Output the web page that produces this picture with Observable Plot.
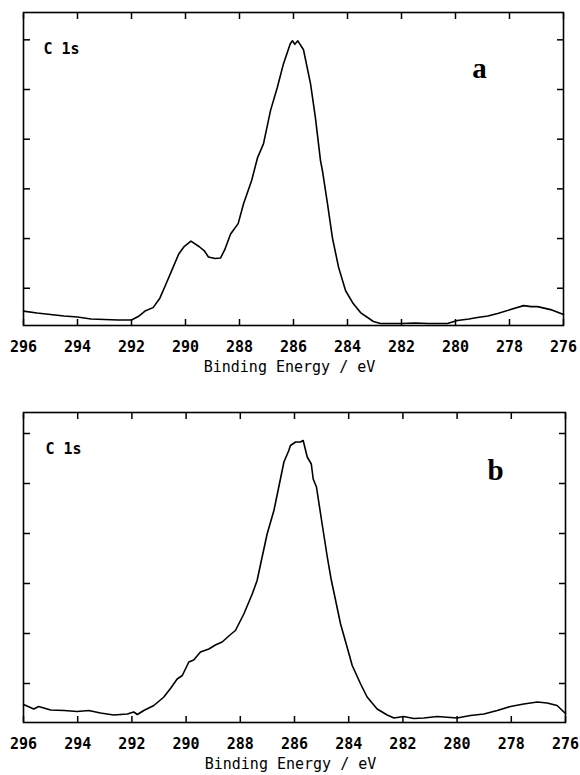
<!DOCTYPE html>
<html>
<head>
<meta charset="utf-8">
<script src="https://cdn.jsdelivr.net/npm/d3@7"></script>
<script src="https://cdn.jsdelivr.net/npm/@observablehq/plot@0.6"></script>
<style>
  html, body { margin: 0; padding: 0; background: #fff; }
  #chart { width: 580px; }
  svg { display: block; }
</style>
</head>
<body>
<div id="chart"></div>
<script>
// ---- data ----
const xTicks = [296, 294, 292, 290, 288, 286, 284, 282, 280, 278, 276];
const xLabel = "Binding Energy / eV";
const peakLabel = "C 1s";
const panelNames = ["a", "b"];

const energyA = [296.0, 295.5, 295.0, 294.5, 294.0, 293.5, 293.0, 292.5, 292.0, 291.75, 291.5, 291.2, 290.95, 290.75, 290.5, 290.25, 290.05, 289.8, 289.5, 289.3, 289.15, 288.9, 288.7, 288.55, 288.33, 288.05, 287.85, 287.55, 287.33, 287.11, 286.85, 286.6, 286.37, 286.12, 286.04, 285.95, 285.84, 285.63, 285.37, 285.19, 285.0, 284.93, 284.74, 284.56, 284.33, 284.07, 283.81, 283.52, 283.04, 282.78, 282.0, 281.5, 281.0, 280.3, 279.93, 279.5, 279.19, 278.8, 278.44, 277.96, 277.48, 277.2, 276.96, 276.48, 276.0];
const intensityA = [0.29, 0.25, 0.22, 0.19, 0.17, 0.13, 0.12, 0.11, 0.11, 0.18, 0.29, 0.36, 0.55, 0.80, 1.12, 1.44, 1.59, 1.70, 1.59, 1.50, 1.38, 1.35, 1.36, 1.52, 1.84, 2.05, 2.45, 2.92, 3.38, 3.66, 4.33, 4.79, 5.27, 5.67, 5.73, 5.66, 5.73, 5.55, 4.87, 4.19, 3.32, 3.12, 2.45, 1.77, 1.17, 0.70, 0.46, 0.26, 0.08, 0.04, 0.04, 0.05, 0.04, 0.04, 0.10, 0.13, 0.16, 0.19, 0.24, 0.32, 0.40, 0.38, 0.38, 0.32, 0.22];

const energyB = [296.0, 295.62, 295.44, 295.0, 294.5, 294.02, 293.59, 293.16, 292.67, 292.17, 291.93, 291.8, 291.56, 291.19, 290.82, 290.55, 290.33, 290.14, 289.9, 289.72, 289.47, 289.16, 288.92, 288.67, 288.36, 288.18, 287.87, 287.56, 287.38, 287.25, 287.01, 286.76, 286.58, 286.39, 286.21, 286.15, 285.96, 285.78, 285.68, 285.53, 285.38, 285.31, 285.19, 284.98, 284.79, 284.65, 284.3, 284.06, 283.87, 283.56, 283.32, 282.95, 282.58, 282.33, 281.97, 281.6, 281.23, 280.73, 280.0, 279.51, 279.01, 278.52, 278.03, 277.54, 277.04, 276.68, 276.31, 276.0];
const intensityB = [0.36, 0.27, 0.32, 0.25, 0.24, 0.22, 0.24, 0.19, 0.15, 0.17, 0.21, 0.16, 0.24, 0.34, 0.51, 0.70, 0.87, 0.94, 1.21, 1.25, 1.41, 1.47, 1.55, 1.61, 1.76, 1.84, 2.17, 2.57, 2.84, 3.17, 3.77, 4.24, 4.71, 5.21, 5.44, 5.54, 5.61, 5.61, 5.64, 5.31, 5.17, 4.87, 4.71, 3.97, 3.31, 2.87, 1.97, 1.51, 1.14, 0.77, 0.51, 0.27, 0.15, 0.09, 0.12, 0.08, 0.09, 0.12, 0.09, 0.14, 0.17, 0.24, 0.32, 0.37, 0.41, 0.39, 0.34, 0.18];

const yTicksA = [0.75, 1.75, 2.75, 3.75, 4.75, 5.75];
const yTicksB = [0.78, 1.78, 2.78, 3.78, 4.78, 5.78];

const MONO = "'DejaVu Sans Mono', monospace";
const SERIF = "'Liberation Serif', 'DejaVu Serif', serif";
const noText = () => "";

function stretch(svg, label, sx, sy) {
  svg.querySelectorAll(`g[aria-label="${label}"] text`).forEach(t => {
    const tr = t.getAttribute("transform") || "";
    t.setAttribute("transform", tr + ` scale(${sx},${sy})`);
  });
}

function panel({energy, intensity, yTicks, yMax, name, height, marginTop, marginBottom, marginRight, cDx, nameDx, nameDy}) {
  const data = energy.map((e, i) => ({e, v: intensity[i]}));
  const tickOpts = {tickFormat: noText, label: null, strokeWidth: 1.5, fontSize: 0};
  const svg = Plot.plot({
    width: 580,
    height,
    marginTop,
    marginBottom,
    marginLeft: 23,
    marginRight,
    x: {domain: [296, 276]},
    y: {domain: [0, yMax]},
    marks: [
      Plot.axisX({anchor: "bottom", ticks: xTicks, tickSize: -6, ...tickOpts}),
      Plot.axisX({anchor: "top", ticks: xTicks, tickSize: -6, ...tickOpts}),
      Plot.axisY({anchor: "left", ticks: yTicks, tickSize: -7, ...tickOpts}),
      Plot.axisY({anchor: "right", ticks: yTicks, tickSize: -7, ...tickOpts}),
      Plot.frame({stroke: "#000", strokeWidth: 1.6}),
      Plot.line(data, {x: "e", y: "v", stroke: "#000", strokeWidth: 1.6, strokeLinejoin: "round"}),
      Plot.text(xTicks, {x: d => d, text: d => String(d), frameAnchor: "bottom", dy: 26, lineAnchor: "bottom",
        fontFamily: MONO, fontWeight: "bold", fontSize: 15, fill: "#000", ariaLabel: "ticklabels"}),
      Plot.text([xLabel], {text: d => d, frameAnchor: "bottom", dy: 46, dx: -4, lineAnchor: "bottom",
        fontFamily: MONO, fontSize: 15, fill: "#000", ariaLabel: "xtitle"}),
      Plot.text([peakLabel], {text: d => d, frameAnchor: "top-left", dx: cDx, dy: 41, lineAnchor: "bottom", textAnchor: "start",
        fontFamily: MONO, fontWeight: "bold", fontSize: 15, fill: "#000", ariaLabel: "peaklabel"}),
      Plot.text([name], {text: d => d, frameAnchor: "top-right", dx: nameDx, dy: nameDy, lineAnchor: "bottom", textAnchor: "middle",
        fontFamily: SERIF, fontWeight: "bold", fontSize: 29, fill: "#000", ariaLabel: "panelname"})
    ]
  });
  // remove the empty tick-label texts of the tick-only axes
  svg.querySelectorAll('g[aria-label$="tick label"]').forEach(g => g.remove());
  stretch(svg, "ticklabels", 1, 1.2);
  stretch(svg, "peaklabel", 1, 1.15);
  stretch(svg, "xtitle", 1, 0.8);
  return svg;
}

const chart = document.getElementById("chart");
chart.append(panel({energy: energyA, intensity: intensityA, yTicks: yTicksA, yMax: 6.3, name: panelNames[0],
  height: 380, marginTop: 12, marginBottom: 55, marginRight: 17, cDx: 20, nameDx: -84, nameDy: 65}));
chart.append(panel({energy: energyB, intensity: intensityB, yTicks: yTicksB, yMax: 6.2, name: panelNames[1],
  height: 395, marginTop: 32, marginBottom: 53, marginRight: 15, cDx: 22, nameDx: -70, nameDy: 67}));
</script>
</body>
</html>
